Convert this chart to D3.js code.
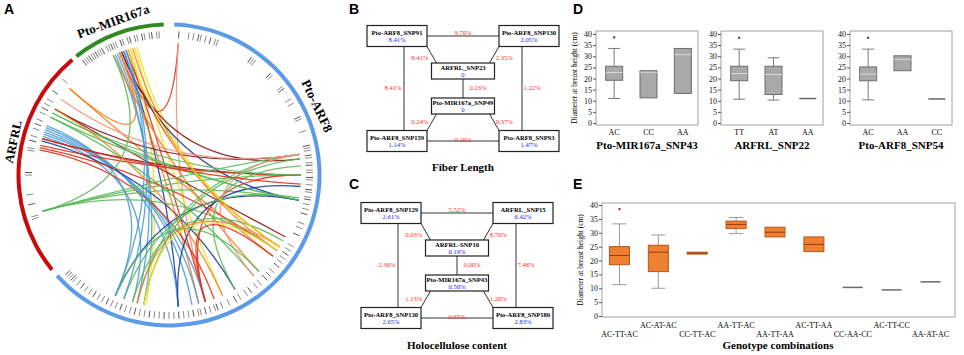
<!DOCTYPE html>
<html>
<head>
<meta charset="utf-8">
<script src="https://cdn.jsdelivr.net/npm/d3@7"></script>
<style>
  body { margin: 0; background: #fff; }
  text { font-family: "Liberation Serif", "Times New Roman", serif; }
</style>
</head>
<body>
<div id="chart"></div>
<script>
// ---------- data ----------
// A: circos segments (degrees, clockwise from top)
const segNames = ["Pto-ARF8", "ARFRL", "Pto-MIR167a"];
const segStart = [2, 231, 322];
const segEnd = [228, 320, 358];
const segLabelAngle = [65, 282, 340];

// SNP positions drawn as grey ticks
const snpAngles = [323, 324, 325, 326, 327, 328, 329, 330, 331, 332, 334, 335, 336, 337, 338, 340, 341, 343, 344, 346, 347, 349, 350, 352, 353, 355, 356,
  4, 8, 10, 12, 13, 15, 17, 19, 20, 35, 36, 37, 45, 46, 52, 53, 58, 60, 66, 67, 72, 78, 79, 80, 82, 83, 85, 86, 88, 89, 91, 92, 94, 96, 97, 99, 100, 102, 104, 106,
  110, 112, 115, 120, 122, 124, 126, 128, 130, 133, 135, 137, 140, 142, 145, 147, 150, 152, 155, 158, 160, 161, 163, 165, 167, 168, 170, 172, 174, 176, 178, 180,
  182, 184, 186, 188, 190, 192, 194, 196, 198, 200, 202, 204, 206, 208, 210, 212, 214, 216, 218, 220, 222, 223, 224, 225, 226,
  252, 253, 258, 262, 270, 271, 280, 281, 284, 286, 289, 291, 293, 296, 298, 300, 302, 306, 312];

// links: [from angle, to angle, colour group]
const links = [
  [338, 4, "red"], [4, 164, "salmon"], [342, 164, "red"], [345, 156, "yellow"], [346, 123, "yellow"],
  [344, 125, "orange"], [341, 123, "red"], [339, 101, "dblue"], [337, 194, "lblue"], [336, 191, "lblue"],
  [343, 190, "yellow"], [340, 176, "dblue"], [338, 167, "orange"], [335, 137, "orange"], [339, 83, "darkred"],
  [311, 338, "orange"], [311, 128, "orange"], [300, 81, "darkred"], [300, 118, "darkred"], [298, 101, "green"],
  [296, 140, "green"], [292, 204, "lblue"], [291, 176, "lblue"], [290, 170, "lblue"], [289, 167, "lblue"],
  [288, 164, "lblue"], [287, 196, "lblue"], [286, 90, "darkred"], [285, 150, "dblue"], [283, 90, "red"],
  [282, 125, "red"], [281, 160, "red"], [254, 81, "green"], [254, 90, "green"], [254, 101, "green"],
  [254, 125, "green"], [254, 335, "green"], [90, 164, "red"], [101, 204, "dblue"], [95, 176, "dblue"],
  [81, 194, "green"], [83, 191, "green"], [86, 150, "green"], [100, 200, "green"], [81, 140, "salmon"],
  [81, 305, "salmon"], [123, 194, "orange"], [125, 191, "yellow"], [128, 164, "red"], [120, 196, "green"],
  [137, 204, "green"], [101, 296, "green"], [90, 298, "green"], [94, 286, "red"], [340, 204, "lblue"],
  [341, 200, "lblue"], [123, 342, "yellow"], [156, 300, "orange"]
];

// B / C: LD networks (node order: top-left, top-right, centre-top, centre-bottom, bottom-left, bottom-right)
const nodeCol = [0, 2, 1, 1, 0, 2];
const nodeRow = [0, 0, 1, 2, 3, 3];
const netEdges = [[0, 1], [0, 2], [1, 2], [0, 4], [2, 3], [1, 5], [3, 4], [3, 5], [4, 5]];

const bNames = ["Pto-ARF8_SNP91", "Pto-ARF8_SNP130", "ARFRL_SNP23", "Pto-MIR167a_SNP49", "Pto-ARF8_SNP159", "Pto-ARF8_SNP93"];
const bValues = ["8.41%", "2.05%", "0", "0", "1.14%", "1.47%"];
const bEdgeLabels = ["9.70%", "8.41%", "2.35%", "8.41%", "0.23%", "1.22%", "0.24%", "0.37%", "0.20%"];

const cNames = ["Pto-ARF8_SNP129", "ARFRL_SNP15", "ARFRL-SNP10", "Pto-MIR167a_SNP43", "Pto-ARF8_SNP130", "Pto-ARF8_SNP180"];
const cValues = ["2.61%", "6.42%", "0.19%", "0.50%", "2.65%", "2.83%"];
const cEdgeLabels = ["5.52%", "0.03%", "8.70%", "2.30%", "0.00%", "7.48%", "1.13%", "1.20%", "0.65%"];

// D: single SNP box plots
const dTitles = ["Pto-MIR167a_SNP43", "ARFRL_SNP22", "Pto-ARF8_SNP54"];
const dGenotypes = [["AC", "CC", "AA"], ["TT", "AT", "AA"], ["AC", "AA", "CC"]];
const dLow = [[11, null, null], [10.7, 10.3, null], [10.4, null, null]];
const dQ1 = [[19.2, 11.3, 13.3], [19, 12.8, 11], [19, 23.5, 10.8]];
const dMed = [[22.7, 22.8, 30.7], [22.2, 21.8, 11], [22, 28.6, 10.8]];
const dQ3 = [[25.5, 23.5, 33.5], [25.5, 25.5, 11], [25.2, 30.2, 10.8]];
const dHigh = [[33.5, null, null], [33.2, 29.3, null], [33.2, null, null]];
const dOut = [[38.5, null, null], [38.3, null, null], [38.3, null, null]];

// E: genotype combinations
const eCombos = ["AC-TT-AC", "AC-AT-AC", "CC-TT-AC", "AA-TT-AC", "AA-TT-AA", "AC-TT-AA", "CC-AA-CC", "AC-TT-CC", "AA-AT-AC"];
const eLow = [11.3, 10, null, 29.7, null, null, null, null, null];
const eQ1 = [18.5, 16, 22.3, 31.5, 28.5, 23.2, 10.3, 9.4, 12.3];
const eMed = [21.8, 23, 22.7, 33, 30.2, 25.8, 10.3, 9.4, 12.3];
const eQ3 = [25, 25.5, 23, 34.2, 32, 28.5, 10.3, 9.4, 12.3];
const eHigh = [33.2, 29.2, null, 35.5, null, null, null, null, null];
const eOut = [38.5, null, null, null, null, null, null, null, null];

const yTicks = [0, 5, 10, 15, 20, 25, 30, 35, 40];

// ---------- chart ----------
const width = 964, height = 355;
const svg = d3.select("#chart").append("svg")
    .attr("width", width)
    .attr("height", height)
    .attr("viewBox", [0, 0, width, height]);

svg.append("rect").attr("width", width).attr("height", height).attr("fill", "#fff");

// panel letters
const letterX = [4, 349, 349, 573, 573];
const letterY = [14, 14, 189, 14, 189];
svg.append("g").selectAll("text")
  .data(["A", "B", "C", "D", "E"])
  .join("text")
    .attr("x", (d, i) => letterX[i])
    .attr("y", (d, i) => letterY[i])
    .style("font-family", "Liberation Sans, Arial, sans-serif")
    .attr("font-weight", "bold")
    .attr("font-size", 14)
    .text(d => d);

// ===== A: circos plot =====
const cx = 169, cy = 175;
const rad = d => d * Math.PI / 180;
const pt = (a, r) => [cx + r * Math.sin(rad(a)), cy - r * Math.cos(rad(a))];

const gA = svg.append("g");
const segColor = d3.scaleOrdinal().domain(segNames).range(["#5b9be8", "#c80a0a", "#2f8a1f"]);
const arc = d3.arc().innerRadius(148.5).outerRadius(152.5);

gA.append("g")
    .attr("transform", `translate(${cx},${cy})`)
  .selectAll("path")
  .data(segNames)
  .join("path")
    .attr("fill", d => segColor(d))
    .attr("d", (d, i) => arc({startAngle: rad(segStart[i]), endAngle: rad(segEnd[i])}));

gA.append("g").selectAll("line")
  .data(snpAngles)
  .join("line")
    .attr("x1", d => pt(d, 137)[0]).attr("y1", d => pt(d, 137)[1])
    .attr("x2", d => pt(d, 144)[0]).attr("y2", d => pt(d, 144)[1])
    .attr("stroke", (d, i) => i % 3 === 0 ? "#555" : "#8a8a8a")
    .attr("stroke-width", 1);

const linkColor = d3.scaleOrdinal()
  .domain(["red", "salmon", "orange", "yellow", "green", "lblue", "dblue", "darkred"])
  .range(["#e2311b", "#f3927c", "#f5821f", "#f6e025", "#5dba5d", "#4c9cd8", "#1d3e9e", "#8e1b1b"]);

gA.append("g").attr("fill", "none")
  .selectAll("path")
  .data(links)
  .join("path")
    .attr("stroke", d => linkColor(d[2]))
    .attr("stroke-width", 1.3)
    .attr("stroke-opacity", 0.9)
    .attr("d", d => {
      const p0 = pt(d[0], 132), p1 = pt(d[1], 132);
      return `M${p0[0]},${p0[1]} Q${cx},${cy} ${p1[0]},${p1[1]}`;
    });

gA.append("g").selectAll("text")
  .data(segNames)
  .join("text")
    .attr("transform", (d, i) => {
      const a = segLabelAngle[i];
      const p = pt(a, i === 1 ? 158 : 162);
      const rot = a > 180 ? a - 360 : a;
      return `translate(${p[0]},${p[1]}) rotate(${rot})`;
    })
    .attr("text-anchor", "middle")
    .attr("dominant-baseline", "middle")
    .attr("font-weight", "bold")
    .attr("font-size", (d, i) => i === 1 ? 12.5 : 13)
    .text(d => d);

// ===== B, C: networks =====
function drawNetwork(x0, y0, names, values, labels, title, titleY) {
  const col = d3.scalePoint().domain([0, 1, 2]).range([x0 + 30, x0 + 162]);
  const row = d3.scalePoint().domain([0, 1, 2, 3]).range([y0 + 11, y0 + 116]);
  const box = i => {
    const w = nodeCol[i] === 1 ? 63 : 60, h = nodeCol[i] === 1 ? 16 : 21;
    const x = col(nodeCol[i]), y = row(nodeRow[i]);
    return {cx: x, cy: y, l: x - w / 2, r: x + w / 2, t: y - h / 2, b: y + h / 2, w, h};
  };
  const g = svg.append("g");

  const geo = netEdges.map(([a, b]) => {
    const A = box(a), B = box(b);
    const ca = nodeCol[a], cb = nodeCol[b];
    if (nodeRow[a] === nodeRow[b]) {
      const dy = nodeRow[a] === 0 ? -3 : -1;
      return {x1: A.r, y1: A.cy, x2: B.l, y2: B.cy, lx: (A.r + B.l) / 2, ly: A.cy + dy};
    }
    if (ca === cb && ca !== 1) {
      const x = ca === 0 ? A.cx + 7 : A.cx - 7;
      return {x1: x, y1: A.b, x2: x, y2: B.t, lx: x + (ca === 0 ? -11 : 10), ly: (A.b + B.t) / 2};
    }
    if (ca === cb) {
      return {x1: A.cx, y1: A.b, x2: A.cx, y2: B.t, lx: A.cx + 15, ly: (A.b + B.t) / 2};
    }
    // diagonal between an outer box and a centre box
    const outer = ca === 1 ? b : a, centre = ca === 1 ? a : b;
    const O = box(outer), C = box(centre);
    const left = nodeCol[outer] === 0;
    const ox = left ? O.r : O.l, cxE = left ? C.l + 5 : C.r - 5;
    let e;
    if (nodeRow[outer] < nodeRow[centre]) e = {x1: ox, y1: O.b, x2: cxE, y2: C.t};
    else e = {x1: cxE, y1: C.b, x2: ox, y2: O.t};
    e.lx = (e.x1 + e.x2) / 2 + (left ? -12 : 10);
    e.ly = (e.y1 + e.y2) / 2 + (nodeRow[outer] === 0 ? 4 : 0);
    return e;
  });

  g.append("g").selectAll("line")
    .data(geo)
    .join("line")
      .attr("x1", d => d.x1).attr("y1", d => d.y1)
      .attr("x2", d => d.x2).attr("y2", d => d.y2)
      .attr("stroke", "#333").attr("stroke-width", 1);

  const nodes = g.append("g").selectAll("g")
    .data(names)
    .join("g");
  nodes.append("rect")
      .attr("x", (d, i) => box(i).l).attr("y", (d, i) => box(i).t)
      .attr("width", (d, i) => box(i).w).attr("height", (d, i) => box(i).h)
      .attr("fill", "#fff").attr("stroke", "#222").attr("stroke-width", 1.2);
  nodes.append("text")
      .attr("x", (d, i) => box(i).cx).attr("y", (d, i) => box(i).cy - 1)
      .attr("text-anchor", "middle")
      .attr("font-size", 6.6).attr("font-weight", "bold")
      .text(d => d);
  nodes.append("text")
      .attr("x", (d, i) => box(i).cx).attr("y", (d, i) => box(i).cy + 6)
      .attr("text-anchor", "middle")
      .attr("font-size", 6.6).attr("fill", "#2424ff")
      .text((d, i) => values[i]);

  g.append("g").selectAll("text")
    .data(labels)
    .join("text")
      .attr("x", (d, i) => geo[i].lx).attr("y", (d, i) => geo[i].ly)
      .attr("text-anchor", "middle").attr("dominant-baseline", "middle")
      .attr("font-size", 6.6).attr("fill", "#ff2a2a")
      .text(d => d);

  g.append("text")
      .attr("x", x0 + 96).attr("y", titleY)
      .attr("text-anchor", "middle")
      .attr("font-size", 11).attr("font-weight", "bold")
      .text(title);
}

drawNetwork(367, 25, bNames, bValues, bEdgeLabels, "Fiber Length", 171);
drawNetwork(361, 202, cNames, cValues, cEdgeLabels, "Holocellulose content", 349);

// ===== box plot helper =====
function drawBox(g, xc, bw, y, s, st) {
  if (s.q1 === s.q3) {
    g.append("line")
      .attr("x1", xc - bw / 2).attr("x2", xc + bw / 2)
      .attr("y1", y(s.q1)).attr("y2", y(s.q1))
      .attr("stroke", st.flat).attr("stroke-width", 1.5);
    return;
  }
  const cap = bw * 0.35;
  if (s.lo != null) {
    g.append("line").attr("x1", xc).attr("x2", xc).attr("y1", y(s.lo)).attr("y2", y(s.q1))
      .attr("stroke", st.whisker);
    g.append("line").attr("x1", xc - cap).attr("x2", xc + cap).attr("y1", y(s.lo)).attr("y2", y(s.lo))
      .attr("stroke", st.whisker);
  }
  if (s.hi != null) {
    g.append("line").attr("x1", xc).attr("x2", xc).attr("y1", y(s.hi)).attr("y2", y(s.q3))
      .attr("stroke", st.whisker);
    g.append("line").attr("x1", xc - cap).attr("x2", xc + cap).attr("y1", y(s.hi)).attr("y2", y(s.hi))
      .attr("stroke", st.whisker);
  }
  g.append("rect")
    .attr("x", xc - bw / 2).attr("y", y(s.q3))
    .attr("width", bw).attr("height", y(s.q1) - y(s.q3))
    .attr("fill", st.fill).attr("stroke", st.stroke);
  g.append("line")
    .attr("x1", xc - bw / 2).attr("x2", xc + bw / 2)
    .attr("y1", y(s.med)).attr("y2", y(s.med))
    .attr("stroke", st.median);
  if (s.out != null) {
    g.append("rect").attr("x", xc - 1).attr("y", y(s.out) - 1).attr("width", 2).attr("height", 2)
      .attr("fill", st.outlier);
  }
}

function styleAxis(g) {
  g.select(".domain").remove();
  g.selectAll(".tick line").attr("stroke", "#555");
  g.selectAll(".tick text").attr("font-size", 8).attr("font-family", "Liberation Serif, serif").attr("fill", "#111");
}

// ===== D =====
const dLeft = [596, 721, 850];
const dW = 102, dTop = 31, dBottom = 125;
const yD = d3.scaleLinear().domain([0, 40]).range([123, 34]);
const dStyle = {fill: "#a9a9a9", stroke: "#6c6c6c", median: "#dadada", whisker: "#7a7a7a", flat: "#666", outlier: "#333"};

dTitles.forEach((title, p) => {
  const g = svg.append("g");
  const x = d3.scaleBand().domain(dGenotypes[p]).range([dLeft[p] + 1, dLeft[p] + dW + 2]);
  g.append("rect")
    .attr("x", dLeft[p]).attr("y", dTop).attr("width", dW).attr("height", dBottom - dTop)
    .attr("fill", "none").attr("stroke", "#a0a0a0");
  g.append("g")
    .attr("transform", `translate(${dLeft[p]},0)`)
    .call(d3.axisLeft(yD).tickValues(yTicks).tickSize(3).tickPadding(1))
    .call(styleAxis);
  dGenotypes[p].forEach((gt, i) => {
    drawBox(g, x(gt) + x.bandwidth() / 2, 17, yD,
      {lo: dLow[p][i], q1: dQ1[p][i], med: dMed[p][i], q3: dQ3[p][i], hi: dHigh[p][i], out: dOut[p][i]}, dStyle);
  });
  g.append("g").selectAll("text")
    .data(dGenotypes[p])
    .join("text")
      .attr("x", d => x(d) + x.bandwidth() / 2).attr("y", 135)
      .attr("text-anchor", "middle").attr("font-size", 8)
      .text(d => d);
  g.append("text")
    .attr("x", dLeft[p] + dW / 2).attr("y", 149)
    .attr("text-anchor", "middle").attr("font-size", 11).attr("font-weight", "bold")
    .text(title);
});

svg.append("text")
  .attr("transform", `translate(577,${(dTop + dBottom) / 2}) rotate(-90)`)
  .attr("text-anchor", "middle").attr("font-size", 7.5)
  .text("Diameter at breast height  (cm)");

// ===== E =====
const eFrame = {l: 602, r: 955, t: 203, b: 317};
const yE = d3.scaleLinear().domain([0, 40]).range([316, 205]);
const xE = d3.scaleBand().domain(eCombos).range([600, 950]);
const eStyle = {fill: "#ef7f31", stroke: "#b9561a", median: "#9a3a0c", whisker: "#9c9c9c", flat: "#6a6a6a", outlier: "#8b1a1a"};

const gE = svg.append("g");
gE.append("rect")
  .attr("x", eFrame.l).attr("y", eFrame.t).attr("width", eFrame.r - eFrame.l).attr("height", eFrame.b - eFrame.t)
  .attr("fill", "none").attr("stroke", "#a0a0a0");
gE.append("g")
  .attr("transform", `translate(${eFrame.l},0)`)
  .call(d3.axisLeft(yE).tickValues(yTicks).tickSize(3).tickPadding(1))
  .call(styleAxis);
eCombos.forEach((c, i) => {
  drawBox(gE, xE(c) + xE.bandwidth() / 2, 20, yE,
    {lo: eLow[i], q1: eQ1[i], med: eMed[i], q3: eQ3[i], hi: eHigh[i], out: eOut[i]}, eStyle);
});
gE.append("g").selectAll("text")
  .data(eCombos)
  .join("text")
    .attr("x", d => xE(d) + xE.bandwidth() / 2)
    .attr("y", (d, i) => i % 2 === 0 ? 337 : 328)
    .attr("text-anchor", "middle").attr("font-size", 8)
    .text(d => d);
gE.append("text")
  .attr("x", 778).attr("y", 349)
  .attr("text-anchor", "middle").attr("font-size", 11).attr("font-weight", "bold")
  .text("Genotype combinations");
gE.append("text")
  .attr("transform", `translate(583,${(eFrame.t + eFrame.b) / 2}) rotate(-90)`)
  .attr("text-anchor", "middle").attr("font-size", 7.5)
  .text("Diameter at breast height  (cm)");
</script>
</body>
</html>
